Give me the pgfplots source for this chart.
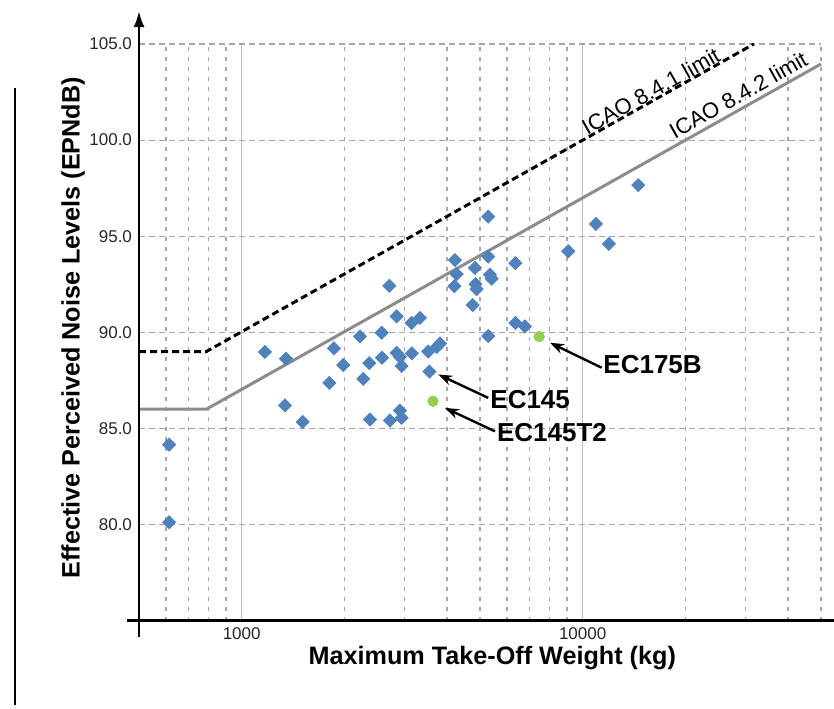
\documentclass[border=0pt]{standalone}
\usepackage{pgfplots}
\pgfplotsset{compat=1.18}
\usepackage{fontspec}
\setmainfont{Liberation Sans}
\usetikzlibrary{arrows.meta,calc}
\definecolor{ptblue}{RGB}{79,129,189}
\definecolor{ptgreen}{RGB}{146,208,80}
\definecolor{gridgray}{RGB}{166,166,166}
\definecolor{majgray}{RGB}{191,191,191}
\definecolor{limgray}{RGB}{140,140,140}
\begin{document}
\begin{tikzpicture}
\begin{axis}[
 scale only axis, width=341pt, height=288.35pt,
 xmode=log, xmin=500, xmax=50000, ymin=75, ymax=105,
 clip=false,
 axis line style={draw=none},
 tick style={draw=none},
 xtick={1000,10000}, xticklabels={1000,10000},
 minor xtick={600,700,800,900,2000,3000,4000,5000,6000,7000,8000,9000,20000,30000,40000,50000},
 ytick={80,85,90,95,100,105},
 xmajorgrids, xminorgrids, ymajorgrids,
 major x grid style={majgray, line width=0.5pt},
 minor x grid style={gridgray, line width=0.6pt, dash pattern=on 2pt off 3pt},
 major y grid style={gridgray, line width=0.6pt, dash pattern=on 2.8pt off 2.2pt},
 /pgf/number format/assume math mode=true,
 yticklabel style={/pgf/number format/fixed, /pgf/number format/fixed zerofill, /pgf/number format/precision=1},
 ticklabel style={font=\fontsize{8.5}{10}\selectfont, text=black!85},
 xlabel={Maximum Take-Off Weight (kg)},
 ylabel={Effective Perceived Noise Levels (EPNdB)},
 label style={font=\fontsize{12.6}{14}\selectfont\bfseries},
 xlabel style={at={(axis description cs:0.518,-0.0647)}, anchor=center},
 ylabel style={at={(axis description cs:-0.0968,0.508)}, anchor=center},
]
% ICAO limit lines
\addplot[limgray, line width=1.5pt] coordinates {(500,86) (788,86) (50000,103.96)};
\addplot[black, line width=1.5pt, dash pattern=on 3.5pt off 2pt] coordinates {(500,89) (788,89) (31770,105)};
% helicopters
\addplot[only marks, mark=square*, mark size=2.3pt, mark options={rotate=45, fill=ptblue, draw=ptblue}] table {
x y
613 84.16
613 80.12
1170 88.98
1349 88.63
1340 86.20
1510 85.34
1807 87.37
1865 89.17
1986 88.30
2223 89.79
2273 87.58
2367 88.40
2378 85.46
2574 89.98
2580 88.68
2710 92.42
2722 85.41
2848 90.83
2848 88.94
2912 88.72
2946 88.25
2912 85.93
2946 85.55
3151 90.49
3334 90.75
3155 88.91
3525 89.00
3739 89.24
3815 89.42
3554 87.96
4222 93.76
4271 93.03
4207 92.40
4833 93.35
5286 93.94
5347 93.00
5410 92.79
4850 92.51
4888 92.25
4758 91.42
5286 96.02
6352 93.60
5286 89.81
6352 90.49
6772 90.31
9074 94.22
10940 95.64
11944 94.60
14555 97.66
};
\addplot[only marks, mark=*, mark size=2.6pt, mark options={fill=ptgreen, draw=ptgreen}] coordinates {(3639,86.42) (7459,89.78)};
% labels on limit lines
\path (axis cs:10300,100.12) -- (axis cs:30000,104.75) node[pos=0, sloped, anchor=south west, inner sep=0.5pt, font=\fontsize{11}{12}\selectfont] {ICAO 8.4.1 limit};
\path (axis cs:18400,99.64) -- (axis cs:50000,103.96) node[pos=0, sloped, anchor=south west, inner sep=2.5pt, font=\fontsize{11}{12}\selectfont] {ICAO 8.4.2 limit};
% annotations
\draw[line width=1.2pt, -{Stealth[length=7pt,width=5pt]}] (axis cs:11368,88.16) -- (axis cs:8022,89.46);
\node[anchor=west, font=\fontsize{13}{15}\selectfont\bfseries, inner sep=0pt] at (axis cs:11475,88.33) {EC175B};
\draw[line width=1.2pt, -{Stealth[length=7pt,width=5pt]}] (axis cs:5286,86.59) -- (axis cs:3771,87.81);
\node[anchor=west, font=\fontsize{13}{15}\selectfont\bfseries, inner sep=0pt] at (axis cs:5350,86.52) {EC145};
\draw[line width=1.2pt, -{Stealth[length=7pt,width=5pt]}] (axis cs:5532,84.85) -- (axis cs:3947,86.07);
\node[anchor=west, font=\fontsize{13}{15}\selectfont\bfseries, inner sep=0pt] at (axis cs:5596,84.77) {EC145T2};
% axis lines
\draw[line width=1.3pt] (axis description cs:-0.0176,0) -- (axis description cs:1.0191,0);
\draw[line width=1.3pt, -{Latex[length=8pt,width=5.5pt]}] (axis description cs:0,-0.0283) -- (axis description cs:0,1.0572);
\draw[line width=0.8pt] (axis description cs:-0.1818,0.9237) -- (axis description cs:-0.1818,-0.1462);
\end{axis}
\pgfresetboundingbox
\path ($(current axis.south west)+(-69.5pt,-44.15pt)$) rectangle ($(current axis.north east)+(6.5pt,22pt)$);
\end{tikzpicture}
\end{document}
